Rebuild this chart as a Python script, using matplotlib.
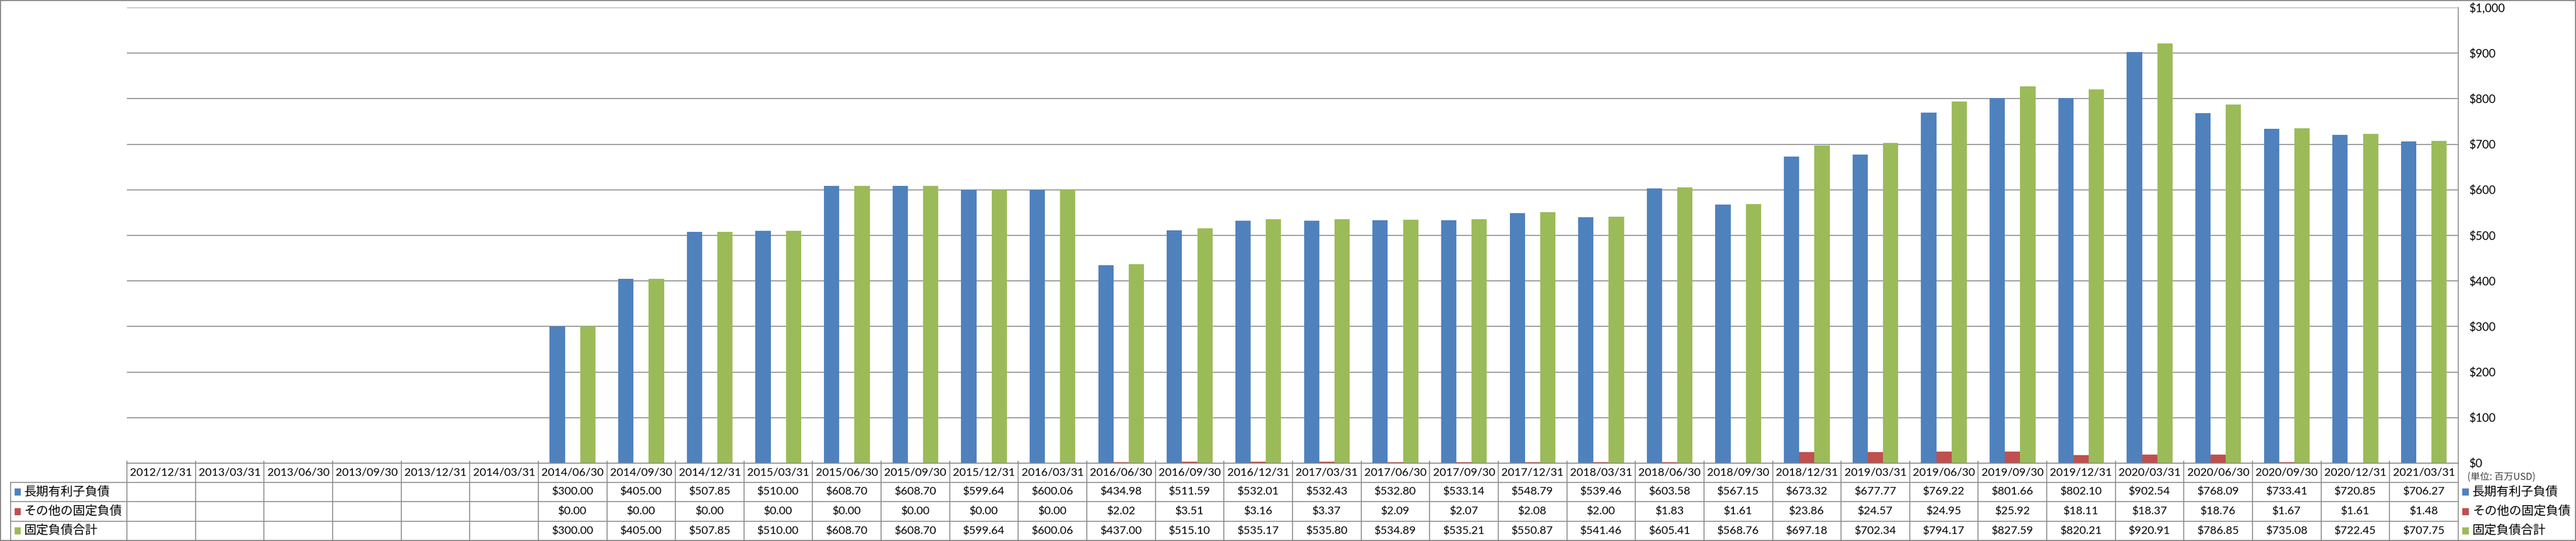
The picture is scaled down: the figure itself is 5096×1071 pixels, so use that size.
import matplotlib
matplotlib.use('Agg')
import matplotlib.pyplot as plt
import numpy as np
from matplotlib.transforms import blended_transform_factory
from matplotlib.patches import Rectangle
from matplotlib.lines import Line2D
from matplotlib.ticker import FuncFormatter, MultipleLocator

plt.rcParams['font.family'] = ['Lato', 'Noto Sans CJK JP', 'DejaVu Sans']

# ---------------- data ----------------
dates = ['2012/12/31', '2013/03/31', '2013/06/30', '2013/09/30', '2013/12/31', '2014/03/31',
         '2014/06/30', '2014/09/30', '2014/12/31', '2015/03/31', '2015/06/30', '2015/09/30',
         '2015/12/31', '2016/03/31', '2016/06/30', '2016/09/30', '2016/12/31', '2017/03/31',
         '2017/06/30', '2017/09/30', '2017/12/31', '2018/03/31', '2018/06/30', '2018/09/30',
         '2018/12/31', '2019/03/31', '2019/06/30', '2019/09/30', '2019/12/31', '2020/03/31',
         '2020/06/30', '2020/09/30', '2020/12/31', '2021/03/31']

series_names = ['長期有利子負債', 'その他の固定負債', '固定負債合計']

long_term_debt = [None, None, None, None, None, None,
                  300.00, 405.00, 507.85, 510.00, 608.70, 608.70,
                  599.64, 600.06, 434.98, 511.59, 532.01, 532.43,
                  532.80, 533.14, 548.79, 539.46, 603.58, 567.15,
                  673.32, 677.77, 769.22, 801.66, 802.10, 902.54,
                  768.09, 733.41, 720.85, 706.27]

other_fixed = [None, None, None, None, None, None,
               0.00, 0.00, 0.00, 0.00, 0.00, 0.00,
               0.00, 0.00, 2.02, 3.51, 3.16, 3.37,
               2.09, 2.07, 2.08, 2.00, 1.83, 1.61,
               23.86, 24.57, 24.95, 25.92, 18.11, 18.37,
               18.76, 1.67, 1.61, 1.48]

total_fixed = [None, None, None, None, None, None,
               300.00, 405.00, 507.85, 510.00, 608.70, 608.70,
               599.64, 600.06, 437.00, 515.10, 535.17, 535.80,
               534.89, 535.21, 550.87, 541.46, 605.41, 568.76,
               697.18, 702.34, 794.17, 827.59, 820.21, 920.91,
               786.85, 735.08, 722.45, 707.75]

y_ticks = [0, 100, 200, 300, 400, 500, 600, 700, 800, 900, 1000]
unit_label = '(単位: 百万USD)'

# ---------------- styling / layout ----------------
colors = ['#4F81BD', '#C0504D', '#9BBB59']
grid_col = '#888888'
W, H = 5096, 1071
DPI = 100
L, R, T, B = 251, 4863, 15, 917          # plot area in pixels
row_edges = [917, 955, 993, 1032, 1070]   # table rows in pixels
label_left = 21

fig = plt.figure(figsize=(W / DPI, H / DPI), dpi=DPI)
ax = fig.add_axes([L / W, 1 - B / H, (R - L) / W, (B - T) / H])

n = len(dates)
x = np.arange(n)
bw = 1 / 4.5
all_series = [long_term_debt, other_fixed, total_fixed]
for i, (vals, c) in enumerate(zip(all_series, colors)):
    v = np.array([np.nan if a is None else a for a in vals], dtype=float)
    m = ~np.isnan(v)
    ax.bar(x[m] + (i - 1) * bw, v[m], bw, color=c, linewidth=0, zorder=2)

ax.set_xlim(-0.5, n - 0.5)
ax.set_ylim(y_ticks[0], y_ticks[-1])
ax.set_yticks(y_ticks)
ax.yaxis.set_major_formatter(FuncFormatter(lambda v, p: '${:,.0f}'.format(v)))
ax.yaxis.tick_right()
ax.tick_params(axis='y', length=0, pad=16, labelsize=16.5)
for lab in ax.get_yticklabels():
    lab.set_horizontalalignment('left')
ax.set_xticks([])
ax.grid(axis='y', color=grid_col, linewidth=1.3, zorder=0)
ax.set_axisbelow(True)
for s in ['left', 'top', 'bottom']:
    ax.spines[s].set_visible(False)
ax.spines['right'].set_color(grid_col)
ax.spines['right'].set_linewidth(1.3)

# ---------------- data table ----------------
tr = blended_transform_factory(ax.transData, fig.transFigure)
col_w = (R - L) / n
x_label_left = -0.5 - (L - label_left) / col_w

def fy(px):
    return 1 - px / H

lw = 1.3
# horizontal lines
ax.add_line(Line2D([-0.5, n - 0.5], [fy(row_edges[0])] * 2, transform=tr, color=grid_col,
                   lw=lw, clip_on=False))
for yy in row_edges[1:]:
    ax.add_line(Line2D([x_label_left, n - 0.5], [fy(yy)] * 2, transform=tr, color=grid_col,
                       lw=lw, clip_on=False))
# vertical lines
for k in range(n + 1):
    ax.add_line(Line2D([k - 0.5, k - 0.5], [fy(row_edges[0] - 4), fy(row_edges[-1])], transform=tr,
                       color=grid_col, lw=lw, clip_on=False))
ax.add_line(Line2D([x_label_left] * 2, [fy(row_edges[1]), fy(row_edges[-1])], transform=tr,
                   color=grid_col, lw=lw, clip_on=False))

hdr_y = fy((row_edges[0] + row_edges[1]) / 2)
for i, d in enumerate(dates):
    ax.text(i, hdr_y, d, transform=tr, ha='center', va='center', fontsize=16, clip_on=False)

for r, (name, vals, c) in enumerate(zip(series_names, all_series, colors)):
    yc = fy((row_edges[r + 1] + row_edges[r + 2]) / 2)
    for i, v in enumerate(vals):
        if v is not None:
            ax.text(i, yc, '${:,.2f}'.format(v), transform=tr, ha='center', va='center',
                    fontsize=16, clip_on=False)
    # row header
    fig.patches.append(Rectangle(((label_left + 8) / W, yc - 7 / H), 12 / W, 14 / H,
                                 transform=fig.transFigure, color=c, lw=0))
    fig.text((label_left + 27) / W, yc, name, ha='left', va='center', fontsize=17.5,
             family=['Noto Sans CJK JP', 'DejaVu Sans'])
    # right legend
    fig.patches.append(Rectangle(((R + 8) / W, yc - 7 / H), 13 / W, 14 / H,
                                 transform=fig.transFigure, color=c, lw=0))
    fig.text((R + 28) / W, yc, name, ha='left', va='center', fontsize=17.5,
             family=['Noto Sans CJK JP', 'DejaVu Sans'])

fig.text((R + 18) / W, fy(945), unit_label, ha='left', va='center', fontsize=13.5,
         color='#404040', family=['Noto Sans CJK JP', 'DejaVu Sans'])

# outer frame
fig.patches.append(Rectangle((0, 0), 1, 1, transform=fig.transFigure, fill=False,
                             edgecolor=grid_col, lw=3))

fig.savefig('out.png', dpi=DPI, facecolor='white')
